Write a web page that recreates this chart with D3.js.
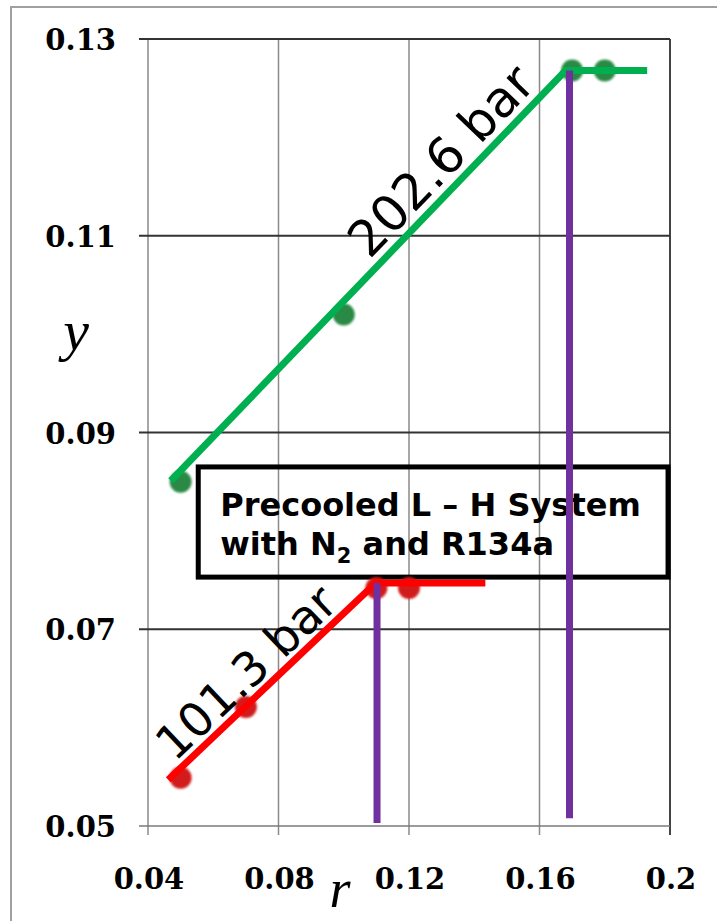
<!DOCTYPE html>
<html>
<head>
<meta charset="utf-8">
<script src="https://cdn.jsdelivr.net/npm/d3@7"></script>
<style>
  body { margin: 0; background: #fff; }
  svg { display: block; }
</style>
</head>
<body>
<svg id="chart" width="717" height="921"></svg>
<script>
// ---- data ----
var xTicks = [0.04, 0.08, 0.12, 0.16, 0.2];
var yTicks = [0.05, 0.07, 0.09, 0.11, 0.13];

// 202.6 bar
var greenR = [0.05, 0.10, 0.17, 0.18];
var greenY = [0.085, 0.102, 0.1268, 0.1268];
var greenFitR = [0.047, 0.168, 0.193];
var greenFitY = [0.0851, 0.1268, 0.1268];

// 101.3 bar
var redR = [0.05, 0.07, 0.11, 0.12];
var redY = [0.0549, 0.0621, 0.0742, 0.0742];
var redFitR = [0.0462, 0.1098, 0.1434];
var redFitY = [0.0547, 0.0747, 0.0747];

// purple markers at the knees
var markR = [0.1102, 0.1692];
var markTop = [0.0747, 0.1268];
var markBottom = [0.0503, 0.0508];

var svg = d3.select('#chart');
var _left = 148, _right = 670, _top = 39, _bottom = 826;

var x = d3.scaleLinear().domain([0.04, 0.2]).range([_left, _right]);
var y = d3.scaleLinear().domain([0.05, 0.13]).range([_bottom, _top]);

svg.append('rect').attr('width', 717).attr('height', 921).attr('fill', '#fff');
// outer frame of the picture
svg.append('rect')
    .attr('x', 11).attr('y', 7).attr('width', 720).attr('height', 930)
    .attr('fill', 'none').attr('stroke', '#a0a0a0').attr('stroke-width', 2);

// soft edges on the markers, like the scanned original
svg.append('defs').append('filter').attr('id', 'soft')
  .append('feGaussianBlur').attr('stdDeviation', 0.9);

//---------------------------------------------------------------------------------------
// GRID + AXES
//---------------------------------------------------------------------------------------
svg.selectAll('.vgrid')
    .data(xTicks)
  .enter().append('line')
    .attr('class', 'vgrid')
    .attr('x1', function (d) { return x(d); })
    .attr('x2', function (d) { return x(d); })
    .attr('y1', _top).attr('y2', _bottom + 9)
    .attr('stroke', function (d, i) { return i === xTicks.length - 1 ? '#444' : '#8a8a8a'; })
    .attr('stroke-width', function (d, i) { return i === xTicks.length - 1 ? 2 : 1.5; });

svg.selectAll('.hgrid')
    .data(yTicks)
  .enter().append('line')
    .attr('class', 'hgrid')
    .attr('x1', _left - 9).attr('x2', _right)
    .attr('y1', function (d) { return y(d); })
    .attr('y2', function (d) { return y(d); })
    .attr('stroke', function (d, i) { return i === 0 ? '#7a7a7a' : '#333'; })
    .attr('stroke-width', function (d, i) { return i === 0 ? 1.6 : 2; });

var tickFont = 'DejaVu Serif, serif';
svg.selectAll('.ylab')
    .data(yTicks)
  .enter().append('text')
    .attr('class', 'ylab')
    .attr('x', 116)
    .attr('y', function (d) { return y(d) + 11; })
    .style('text-anchor', 'end')
    .style('font-family', tickFont).style('font-weight', 'bold').style('font-size', '29px')
    .text(function (d) { return d3.format('.2f')(d); });

svg.selectAll('.xlab')
    .data(xTicks)
  .enter().append('text')
    .attr('class', 'xlab')
    .attr('x', function (d) { return x(d) + 1; })
    .attr('y', 889)
    .style('text-anchor', 'middle')
    .style('font-family', tickFont).style('font-weight', 'bold').style('font-size', '29px')
    .text(function (d) { return d === 0.2 ? '0.2' : d3.format('.2f')(d); });

// axis titles
svg.append('text')
    .attr('x', 76).attr('y', 350)
    .style('text-anchor', 'middle')
    .style('font-family', 'Liberation Serif, serif').style('font-style', 'italic').style('font-size', '58px')
    .text('y');
svg.append('text')
    .attr('x', 340).attr('y', 907)
    .style('text-anchor', 'middle')
    .style('font-family', 'Liberation Serif, serif').style('font-style', 'italic').style('font-size', '54px')
    .text('r');

//---------------------------------------------------------------------------------------
// ANNOTATION BOX
//---------------------------------------------------------------------------------------
var boxX0 = x(0.0554), boxX1 = x(0.1994), boxY0 = y(0.0865), boxY1 = y(0.0753);
svg.append('rect')
    .attr('x', boxX0).attr('y', boxY0)
    .attr('width', boxX1 - boxX0).attr('height', boxY1 - boxY0)
    .attr('fill', 'none').attr('stroke', '#000').attr('stroke-width', 5);

var boxText = svg.append('text')
    .style('font-family', 'DejaVu Sans, sans-serif').style('font-weight', 'bold').style('font-size', '32px');
boxText.append('tspan').attr('x', boxX0 + 22).attr('y', boxY0 + 49).text('Precooled L \u2013 H System');
var l2 = boxText.append('tspan').attr('x', boxX0 + 22).attr('y', boxY0 + 88);
l2.append('tspan').text('with N');
l2.append('tspan').attr('dy', 8).style('font-size', '21px').text('2');
l2.append('tspan').attr('dy', -8).text(' and R134a');

//---------------------------------------------------------------------------------------
// SERIES
//---------------------------------------------------------------------------------------
function zip(a, b) { return a.map(function (v, i) { return [v, b[i]]; }); }

var series = [
    { pts: zip(greenR, greenY), fit: zip(greenFitR, greenFitY), dot: '#2b8a45', line: '#00b050',
      label: '202.6 bar', at: 0.1358, size: 50, off: -10 },
    { pts: zip(redR, redY), fit: zip(redFitR, redFitY), dot: '#d21b1b', line: '#ff0000',
      label: '101.3 bar', at: 0.0752, size: 47, off: -8 }
];

var lineGen = d3.line()
    .x(function (d) { return x(d[0]); })
    .y(function (d) { return y(d[1]); });

series.forEach(function (s) {
    svg.selectAll(null)
        .data(s.pts)
      .enter().append('circle')
        .attr('cx', function (d) { return x(d[0]); })
        .attr('cy', function (d) { return y(d[1]); })
        .attr('r', 11)
        .attr('fill', s.dot)
        .attr('filter', 'url(#soft)');
});

series.forEach(function (s) {
    svg.append('path')
        .attr('d', lineGen(s.fit))
        .attr('fill', 'none')
        .attr('stroke', s.line)
        .attr('stroke-width', 7);

    // label rotated along the sloped part of the fit
    var p0 = s.fit[0], p1 = s.fit[1];
    var ang = Math.atan2(y(p1[1]) - y(p0[1]), x(p1[0]) - x(p0[0])) * 180 / Math.PI;
    var t = (s.at - p0[0]) / (p1[0] - p0[0]);
    var ly = p0[1] + t * (p1[1] - p0[1]);
    svg.append('text')
        .attr('transform', 'translate(' + x(s.at) + ',' + y(ly) + ') rotate(' + ang + ')')
        .attr('dy', s.off)
        .style('text-anchor', 'middle')
        .style('font-family', 'DejaVu Sans, sans-serif').style('font-size', s.size + 'px')
        .text(s.label);
});

svg.selectAll('.mark')
    .data(markR)
  .enter().append('line')
    .attr('class', 'mark')
    .attr('x1', function (d) { return x(d); })
    .attr('x2', function (d) { return x(d); })
    .attr('y1', function (d, i) { return y(markTop[i]); })
    .attr('y2', function (d, i) { return y(markBottom[i]); })
    .attr('stroke', '#7030a0')
    .attr('stroke-width', 7);
</script>
</body>
</html>
